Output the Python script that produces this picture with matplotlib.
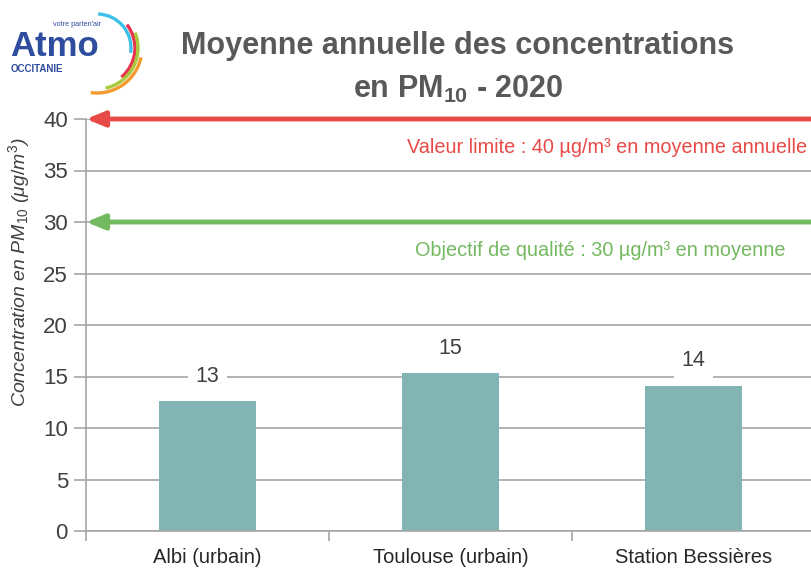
import matplotlib.pyplot as plt
from matplotlib.patches import Arc

SANS = ["Liberation Sans", "DejaVu Sans"]
plt.rcParams["font.family"] = SANS
plt.rcParams["mathtext.fontset"] = "custom"
plt.rcParams["mathtext.rm"] = "Liberation Sans"
plt.rcParams["mathtext.it"] = "Liberation Sans:italic"
plt.rcParams["mathtext.bf"] = "Liberation Sans:bold"

# data
stations = ["Albi (urbain)", "Toulouse (urbain)", "Station Bessières"]
pm10 = [12.6, 15.3, 14.1]
labels = ["13", "15", "14"]
valeur_limite = 40
objectif_qualite = 30
yticks = [0, 5, 10, 15, 20, 25, 30, 35, 40]

grey = "#595959"
bar_col = "#82b4b4"
red = "#e84a47"
green = "#73b95f"
grid_col = "#a6a6a6"

fig = plt.figure(figsize=(8.11, 5.70), dpi=100)
ax = fig.add_axes([86 / 811, 1 - 531 / 570, 729 / 811, (531 - 119) / 570])

x = list(range(len(stations)))
ax.bar(x, pm10, width=0.4, color=bar_col, zorder=2)
for xi, v, lab in zip(x, pm10, labels):
    ax.annotate(lab, (xi, v), xytext=(0, 18), textcoords="offset points",
                ha="center", va="center", fontsize=15.5, color="#404040",
                bbox=dict(boxstyle="square,pad=0.35", fc="white", ec="none"), zorder=3)

ax.set_xlim(-0.5, 2.5)
ax.set_ylim(0, 40)
ax.set_yticks(yticks)
ax.set_yticklabels([str(t) for t in yticks], fontsize=16, color="#404040")
ax.set_xticks(x)
ax.set_xticklabels(stations, fontsize=14.5, color="#262626")
ax.set_xticks([-0.5, 0.5, 1.5, 2.5], minor=True)
ax.tick_params(axis="x", which="major", length=0, pad=12)
ax.tick_params(axis="x", which="minor", length=7, color=grid_col, width=1.2)
ax.tick_params(axis="y", length=9, color=grid_col, width=1.2, pad=4)

ax.yaxis.grid(True, color=grid_col, lw=1.2, zorder=0)
ax.set_axisbelow(True)
for s in ["top", "right"]:
    ax.spines[s].set_visible(False)
for s in ["left", "bottom"]:
    ax.spines[s].set_color(grid_col)
    ax.spines[s].set_linewidth(1.2)

ax.set_ylabel("Concentration en $PM_{10}$ ($\\mu g/m^3$)", fontsize=14,
              style="italic", color="#404040")
ax.yaxis.set_label_coords(-0.074, 0.629)

# reference arrows
for val, col in [(valeur_limite, red), (objectif_qualite, green)]:
    ax.annotate("", xy=(-0.5, val), xytext=(2.52, val),
                arrowprops=dict(arrowstyle="-|>,head_length=1.1,head_width=0.45",
                                color=col, lw=3.5, shrinkA=0, shrinkB=0),
                annotation_clip=False, zorder=4)

ax.text(0.989, 37.2, "Valeur limite : 40 µg/m³ en moyenne annuelle", ha="right",
        va="center", fontsize=14.3, color=red, transform=ax.get_yaxis_transform(),
        bbox=dict(fc="white", ec="none", pad=1))
ax.text(0.96, 27.2, "Objectif de qualité : 30 µg/m³ en moyenne", ha="right",
        va="center", fontsize=14.3, color=green, transform=ax.get_yaxis_transform(),
        bbox=dict(fc="white", ec="none", pad=1))

# title
fig.text(458 / 811, 1 - 46 / 570, "Moyenne annuelle des concentrations",
         ha="center", va="center", fontsize=22, weight="bold", color=grey)
fig.text(458 / 811, 1 - 89 / 570, "en PM$_{\\mathbf{10}}$ - 2020",
         ha="center", va="center", fontsize=22, weight="bold", color=grey)

# logo
blue = "#2f4d9e"
fig.text(10 / 811, 1 - 47 / 570, "Atmo", fontsize=25, weight="bold", color=blue,
         va="center", ha="left")
fig.text(11 / 811, 1 - 69 / 570, "OCCITANIE", fontsize=7, weight="bold",
         color=blue, va="center", ha="left")
fig.text(53 / 811, 1 - 24 / 570, "votre parten'air", fontsize=5.2, color=blue,
         va="center", ha="left")
lax = fig.add_axes([0, 1 - 100 / 570, 160 / 811, 100 / 570])
lax.set_xlim(0, 160)
lax.set_ylim(0, 100)
lax.axis("off")
for r, a1, a2, c in [(34, -8, 88, "#3cc0e8"), (38, -50, 38, "#e8344e"),
                     (41, -78, 22, "#a8c93a"), (45, -98, -12, "#f29a2e")]:
    lax.add_patch(Arc((97, 52), 2 * r, 2 * r, theta1=a1, theta2=a2,
                      color=c, lw=2.4))

fig.savefig("out.png", dpi=100)
